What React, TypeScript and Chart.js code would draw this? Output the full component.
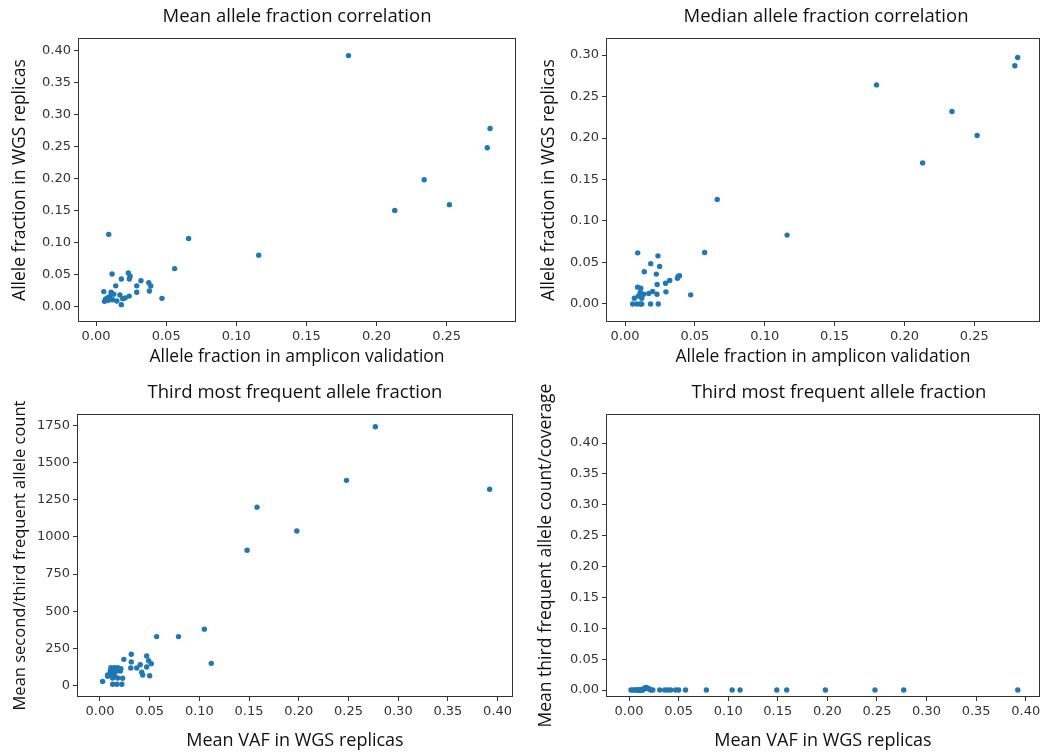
import React, { useEffect, useRef } from "react";
import { Chart, registerables } from "chart.js";

Chart.register(...registerables);

// Panel 1: mean allele fraction correlation
const meanAmpliconVAF = [0.180, 0.281, 0.279, 0.234, 0.252, 0.213, 0.116, 0.066, 0.056, 0.009, 0.047, 0.0114, 0.023, 0.0243, 0.0237, 0.018, 0.032, 0.0376, 0.039, 0.014, 0.029, 0.038, 0.029, 0.0055, 0.0107, 0.0126, 0.017, 0.0236, 0.0207, 0.0067, 0.0088, 0.0117, 0.0148, 0.006, 0.019, 0.018, 0.0095, 0.008];
const meanWgsVAF = [0.392, 0.278, 0.248, 0.198, 0.159, 0.150, 0.080, 0.106, 0.059, 0.1125, 0.0125, 0.0505, 0.052, 0.047, 0.0427, 0.0427, 0.040, 0.037, 0.0318, 0.032, 0.032, 0.024, 0.022, 0.023, 0.022, 0.019, 0.0177, 0.016, 0.013, 0.011, 0.0094, 0.0104, 0.0083, 0.0078, 0.012, 0.0026, 0.015, 0.013];

// Panel 2: median allele fraction correlation
const medianAmpliconVAF = [0.180, 0.281, 0.279, 0.234, 0.252, 0.213, 0.116, 0.066, 0.057, 0.047, 0.0091, 0.0236, 0.0184, 0.0248, 0.0138, 0.0224, 0.038, 0.039, 0.0375, 0.032, 0.029, 0.023, 0.009, 0.0113, 0.0293, 0.0198, 0.017, 0.0109, 0.0133, 0.0229, 0.0096, 0.0067, 0.012, 0.0055, 0.0084, 0.0108, 0.012, 0.0183, 0.0238];
const medianWgsVAF = [0.264, 0.297, 0.287, 0.232, 0.203, 0.170, 0.083, 0.126, 0.062, 0.011, 0.0616, 0.058, 0.0486, 0.0453, 0.0389, 0.036, 0.0332, 0.034, 0.031, 0.0283, 0.025, 0.0235, 0.0203, 0.019, 0.0146, 0.015, 0.0126, 0.0138, 0.0118, 0.0118, 0.0097, 0.0069, 0.0069, 0, 0, 0, 0, 0, 0];

// Panel 3: mean second/third frequent allele count
const countVAF = [0.392, 0.277, 0.248, 0.198, 0.158, 0.148, 0.105, 0.112, 0.079, 0.057, 0.0315, 0.024, 0.047, 0.0315, 0.049, 0.0516, 0.0405, 0.037, 0.031, 0.047, 0.042, 0.043, 0.050, 0.011, 0.0144, 0.0178, 0.021, 0.0104, 0.0138, 0.0171, 0.0205, 0.0077, 0.011, 0.0144, 0.0077, 0.0127, 0.0178, 0.0228, 0.0027, 0.0128, 0.017, 0.022];
const secondThirdCount = [1320, 1740, 1380, 1040, 1200, 910, 380, 150, 330, 330, 211, 177, 200, 160, 168, 148, 141, 119, 119, 126, 90, 72, 67, 121, 121, 121, 114, 99, 99, 99, 99, 72, 72, 72, 63, 52, 52, 50, 29, 10, 10, 10];

// Panel 4: mean third frequent allele count / coverage
const thirdVAF = [0.002, 0.004, 0.006, 0.008, 0.009, 0.010, 0.011, 0.012, 0.013, 0.014, 0.015, 0.016, 0.017, 0.018, 0.019, 0.020, 0.021, 0.022, 0.024, 0.031, 0.036, 0.039, 0.042, 0.047, 0.050, 0.057, 0.078, 0.104, 0.112, 0.149, 0.159, 0.198, 0.248, 0.277, 0.392];
const thirdFraction = [0, 0, 0, 0, 0, 0, 0, 0, 0, 0, 0.002, 0.003, 0.004, 0.003, 0.003, 0.002, 0.001, 0, 0, 0, 0, 0, 0, 0, 0, 0, 0, 0, 0, 0, 0, 0, 0, 0, 0];

const titles = ["Mean allele fraction correlation", "Median allele fraction correlation", "Third most frequent allele fraction", "Third most frequent allele fraction"];
const xLabels = ["Allele fraction in amplicon validation", "Allele fraction in amplicon validation", "Mean VAF in WGS replicas", "Mean VAF in WGS replicas"];
const yLabels = ["Allele fraction in WGS replicas", "Allele fraction in WGS replicas", "Mean second/third frequent allele count", "Mean third frequent allele count/coverage"];

const POINT = "#1f77b4";
const AXIS = "#333333";
const TICK_FONT = { family: "DejaVu Sans", size: 13 };
const LABEL_FAMILY = "Open Sans";

const framePlugin = {
  id: "frame",
  afterDatasetsDraw(chart: any) {
    const { ctx, chartArea } = chart;
    const l = Math.round(chartArea.left) + 0.5;
    const t = Math.round(chartArea.top) + 0.5;
    const r = Math.round(chartArea.right) - 0.5;
    const b = Math.round(chartArea.bottom) - 0.5;
    ctx.save();
    ctx.strokeStyle = AXIS;
    ctx.lineWidth = 1;
    ctx.strokeRect(l, t, r - l, b - t);
    ctx.restore();
  },
};

const panelTitlePlugin = {
  id: "panelTitle",
  afterDraw(chart: any, _args: any, opts: any) {
    const { ctx, chartArea } = chart;
    ctx.save();
    ctx.fillStyle = "#111";
    ctx.font = `${opts.size}px "${LABEL_FAMILY}"`;
    ctx.textAlign = "center";
    ctx.textBaseline = "middle";
    ctx.fillText(opts.text, (chartArea.left + chartArea.right) / 2 + opts.dx, opts.y);
    ctx.restore();
  },
};

type PanelProps = {
  left: number;
  top: number;
  xs: number[];
  ys: number[];
  title: string;
  titleY: number;
  titleDx: number;
  xLabel: string;
  yLabel: string;
  xMin: number;
  xMax: number;
  yMin: number;
  yMax: number;
  yStep: number;
  yDecimals: number;
  yAxisWidth: number;
  xAxisHeight: number;
  topPad: number;
  rightPad: number;
  yTitlePad: number;
  yTitleSize: number;
  xTitlePad: number;
  xTitleSize: number;
};

function Panel(p: PanelProps) {
  const ref = useRef<HTMLCanvasElement | null>(null);
  useEffect(() => {
    if (!ref.current) return;
    const chart = new Chart(ref.current, {
      type: "scatter",
      data: {
        datasets: [
          {
            data: p.xs.map((x, i) => ({ x, y: p.ys[i] })),
            backgroundColor: POINT,
            borderWidth: 0,
            pointRadius: 2.7,
            pointHoverRadius: 2.7,
          },
        ],
      },
      options: {
        responsive: false,
        animation: false,
        events: [],
        layout: { padding: { left: 0, top: p.topPad, right: p.rightPad, bottom: 0 } },
        plugins: {
          legend: { display: false },
          tooltip: { enabled: false },
          title: { display: false },
          panelTitle: { text: p.title, y: p.titleY, dx: p.titleDx, size: 18.5 },
        },
        scales: {
          x: {
            type: "linear",
            min: p.xMin,
            max: p.xMax,
            afterFit: (s: any) => {
              s.height = p.xAxisHeight;
            },
            ticks: {
              stepSize: 0.05,
              includeBounds: false,
              autoSkip: false,
              maxRotation: 0,
              padding: 3,
              color: AXIS,
              font: TICK_FONT,
              callback: (v: any) => Number(v).toFixed(2),
            },
            grid: { drawOnChartArea: false, drawTicks: true, tickLength: 4, color: AXIS },
            border: { display: false },
            title: {
              display: true,
              text: p.xLabel,
              color: "#111",
              font: { family: LABEL_FAMILY, size: p.xTitleSize, lineHeight: 1.2 },
              padding: { top: 0, bottom: p.xTitlePad },
            },
          },
          y: {
            type: "linear",
            min: p.yMin,
            max: p.yMax,
            afterFit: (s: any) => {
              s.width = p.yAxisWidth;
            },
            ticks: {
              stepSize: p.yStep,
              includeBounds: false,
              autoSkip: false,
              padding: 3,
              color: AXIS,
              font: TICK_FONT,
              callback: (v: any) => Number(v).toFixed(p.yDecimals),
            },
            grid: { drawOnChartArea: false, drawTicks: true, tickLength: 4, color: AXIS },
            border: { display: false },
            title: {
              display: true,
              text: p.yLabel,
              color: "#111",
              font: { family: LABEL_FAMILY, size: p.yTitleSize, lineHeight: 1.2 },
              padding: { top: p.yTitlePad, bottom: 0 },
            },
          },
        },
      },
      plugins: [framePlugin, panelTitlePlugin],
    } as any);
    return () => chart.destroy();
  }, []);
  return (
    <div style={{ position: "absolute", left: p.left, top: p.top, width: 522, height: 377 }}>
      <canvas ref={ref} width={522} height={377} />
    </div>
  );
}

export default function App() {
  return (
    <div style={{ position: "absolute", left: 0, top: 0, width: 1044, height: 754, background: "#fff" }}>
      <Panel
        left={0}
        top={0}
        topPad={38}
        titleY={17}
        titleDx={0}
        xs={meanAmpliconVAF}
        ys={meanWgsVAF}
        title={titles[0]}
        xLabel={xLabels[0]}
        yLabel={yLabels[0]}
        xMin={-0.0129}
        xMax={0.2995}
        yMin={-0.0245}
        yMax={0.4195}
        yStep={0.05}
        yDecimals={2}
        yAxisWidth={78}
        xAxisHeight={55}
        rightPad={6}
        yTitlePad={9.5}
        yTitleSize={17.5}
        xTitlePad={9.5}
        xTitleSize={17.5}
      />
      <Panel
        left={522}
        top={0}
        topPad={38}
        titleY={17}
        titleDx={3}
        xs={medianAmpliconVAF}
        ys={medianWgsVAF}
        title={titles[1]}
        xLabel={xLabels[1]}
        yLabel={yLabels[1]}
        xMin={-0.0136}
        xMax={0.297}
        yMin={-0.0217}
        yMax={0.3205}
        yStep={0.05}
        yDecimals={2}
        yAxisWidth={84}
        xAxisHeight={55}
        rightPad={4}
        yTitlePad={16.5}
        yTitleSize={17.5}
        xTitlePad={9.5}
        xTitleSize={17.5}
      />
      <Panel
        left={0}
        top={377}
        topPad={37}
        titleY={16}
        titleDx={0}
        xs={countVAF}
        ys={secondThirdCount}
        title={titles[2]}
        xLabel={xLabels[2]}
        yLabel={yLabels[2]}
        xMin={-0.0231}
        xMax={0.4155}
        yMin={-76}
        yMax={1826}
        yStep={250}
        yDecimals={0}
        yAxisWidth={77}
        xAxisHeight={57}
        rightPad={9}
        yTitlePad={10.1}
        yTitleSize={16.5}
        xTitlePad={2.2}
        xTitleSize={18}
      />
      <Panel
        left={522}
        top={377}
        topPad={37}
        titleY={16}
        titleDx={16}
        xs={thirdVAF}
        ys={thirdFraction}
        title={titles[3]}
        xLabel={xLabels[3]}
        yLabel={yLabels[3]}
        xMin={-0.0232}
        xMax={0.4144}
        yMin={-0.0113}
        yMax={0.447}
        yStep={0.05}
        yDecimals={2}
        yAxisWidth={84}
        xAxisHeight={57}
        rightPad={4}
        yTitlePad={13.5}
        yTitleSize={17.5}
        xTitlePad={2.2}
        xTitleSize={18}
      />
    </div>
  );
}
